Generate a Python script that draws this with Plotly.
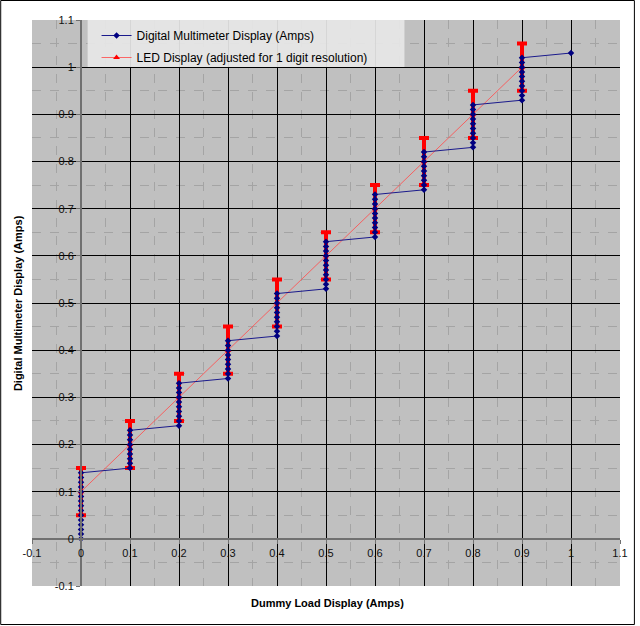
import plotly.graph_objects as go

# ---- data ----
dmm_x = [0]*15 + [0.1]*9 + [0.2]*10 + [0.3]*9 + [0.4]*10 + [0.5]*11 + [0.6]*10 + [0.7]*9 + [0.8]*10 + [0.9]*10 + [1.0]
dmm_y = [0.00, 0.01, 0.02, 0.03, 0.04, 0.05, 0.06, 0.07, 0.08, 0.09, 0.10, 0.11, 0.12, 0.13, 0.14,
         0.15, 0.16, 0.17, 0.18, 0.19, 0.20, 0.21, 0.22, 0.23,
         0.24, 0.25, 0.26, 0.27, 0.28, 0.29, 0.30, 0.31, 0.32, 0.33,
         0.34, 0.35, 0.36, 0.37, 0.38, 0.39, 0.40, 0.41, 0.42,
         0.43, 0.44, 0.45, 0.46, 0.47, 0.48, 0.49, 0.50, 0.51, 0.52,
         0.53, 0.54, 0.55, 0.56, 0.57, 0.58, 0.59, 0.60, 0.61, 0.62, 0.63,
         0.64, 0.65, 0.66, 0.67, 0.68, 0.69, 0.70, 0.71, 0.72, 0.73,
         0.74, 0.75, 0.76, 0.77, 0.78, 0.79, 0.80, 0.81, 0.82,
         0.83, 0.84, 0.85, 0.86, 0.87, 0.88, 0.89, 0.90, 0.91, 0.92,
         0.93, 0.94, 0.95, 0.96, 0.97, 0.98, 0.99, 1.00, 1.01, 1.02,
         1.03]

led_x = [0.0, 0.1, 0.2, 0.3, 0.4, 0.5, 0.6, 0.7, 0.8, 0.9]
led_y = [0.1, 0.2, 0.3, 0.4, 0.5, 0.6, 0.7, 0.8, 0.9, 1.0]
led_err = [0.05, 0.05, 0.05, 0.05, 0.05, 0.05, 0.05, 0.05, 0.05, 0.05]

tick_vals = [-0.1, 0.0, 0.1, 0.2, 0.3, 0.4, 0.5, 0.6, 0.7, 0.8, 0.9, 1.0, 1.1]
tick_text = ["-0.1", "0", "0.1", "0.2", "0.3", "0.4", "0.5", "0.6", "0.7", "0.8", "0.9", "1", "1.1"]
minor_vals = [-0.05, 0.05, 0.15, 0.25, 0.35, 0.45, 0.55, 0.65, 0.75, 0.85, 0.95, 1.05]

W, H = 640, 626
L, R, T, B = 32, 16, 20, 40
PW, PH = W - L - R, H - T - B

def px_x(px):
    return (px - L) / PW

def px_y(py):
    return (H - B - py) / PH

FONT = "Liberation Sans, Arial, sans-serif"

fig = go.Figure()
fig.add_trace(go.Scatter(
    x=led_x, y=led_y, mode="lines+markers",
    name="LED Display (adjusted for 1 digit resolution)",
    line=dict(color="rgba(255,80,80,0.85)", width=1),
    marker=dict(symbol="triangle-up", size=6, color="#ff0000"),
    error_y=dict(type="data", array=led_err, visible=True, color="#ff0000", thickness=4, width=5),
    legendgroup="b", legendrank=2,
))
fig.add_trace(go.Scatter(
    x=dmm_x, y=dmm_y, mode="lines+markers",
    name="Digital Multimeter Display (Amps)",
    line=dict(color="#1a1a8c", width=1),
    marker=dict(symbol="diamond", size=5, color="#000080"),
    legendgroup="a", legendrank=1,
))

axis_common = dict(
    range=[-0.1, 1.1], tickmode="array", tickvals=tick_vals, ticktext=tick_text,
    showgrid=True, gridcolor="#000000", gridwidth=1,
    zeroline=False, showline=True, linecolor="#707070", linewidth=2,
    ticks="outside", ticklen=4, tickcolor="#707070",
    tickfont=dict(family=FONT, size=11, color="#111111"),
    anchor="free", position=0.1 / 1.2,
    minor=dict(tickmode="array", tickvals=minor_vals, showgrid=True,
               gridcolor="#a4a4a4", griddash="dash", gridwidth=1, ticks=""),
)

fig.update_layout(
    width=W, height=H,
    margin=dict(l=L, r=R, t=T, b=B),
    paper_bgcolor="white", plot_bgcolor="#c0c0c0",
    font=dict(family=FONT, size=11, color="black"),
    xaxis=dict(**axis_common),
    yaxis=dict(**axis_common),
    showlegend=True,
    legend=dict(x=px_x(97), y=px_y(21), xanchor="left", yanchor="top",
                bgcolor="rgba(0,0,0,0)", borderwidth=0,
                font=dict(family=FONT, size=12, color="black"),
                traceorder="grouped", tracegroupgap=3,
                itemwidth=30),
    annotations=[
        dict(text="<b>Digital Multimeter Display (Amps)</b>", xref="paper", yref="paper",
             x=px_x(18), y=0.5, textangle=-90, showarrow=False,
             xanchor="center", yanchor="middle", font=dict(family=FONT, size=11)),
        dict(text="<b>Dummy Load Display (Amps)</b>", xref="paper", yref="paper",
             x=px_x(330), y=px_y(603), showarrow=False,
             xanchor="center", yanchor="middle", font=dict(family=FONT, size=11)),
    ],
    shapes=[
        dict(type="rect", xref="paper", yref="paper",
             x0=px_x(88), x1=px_x(407), y0=px_y(67), y1=px_y(20),
             line=dict(width=0), fillcolor="#e6e6e6", opacity=0.93, layer="above"),
        dict(type="rect", xref="paper", yref="paper",
             x0=px_x(0.5), x1=px_x(638.5), y0=px_y(624.5), y1=px_y(0.5),
             line=dict(color="#000000", width=1), fillcolor="rgba(0,0,0,0)", layer="above"),
    ],
)

fig.write_html("out.html")
